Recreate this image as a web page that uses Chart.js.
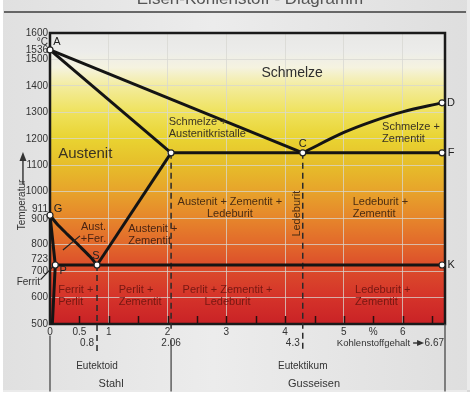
<!DOCTYPE html>
<html>
<head>
<meta charset="utf-8">
<script src="https://cdn.jsdelivr.net/npm/chart.js@4/dist/chart.umd.min.js"></script>
<style>
  html, body { margin: 0; padding: 0; background: #fff; }
  canvas { display: block; }
</style>
</head>
<body>
<canvas id="fe_chart" width="474" height="397"></canvas>
<script>
// key points (carbon %, temperature °C)
const pointA = [0, 1536], pointC = [4.3, 1147], pointD = [6.67, 1336], pointE = [2.06, 1147],
  pointF = [6.67, 1147], pointG = [0, 911], pointS = [0.8, 723], pointP = [0.09, 723], pointK = [6.67, 723];

// phase lines
const liquidusAC = [pointA, pointC];
const liquidusCD = [pointC, [5.0, 1224], [5.5, 1267], [6.0, 1302], pointD];
const solidusAE = [pointA, pointE];
const eutecticEF = [pointE, pointF];
const acmES = [pointE, pointS];
const lineGS = [pointG, [0.12, 878], [0.3, 838], [0.5, 795], [0.68, 755], pointS];
const ferritLine = [pointG, pointP, [0.04, 500]];
const eutectoidPK = [pointP, pointK];

// guide lines (below 500 = under the axis)
const drop08 = [pointS, [0.8, 392]];
const drop206 = [pointE, [2.06, 478]];
const drop43 = [pointC, [4.3, 392]];
const split0 = [[0, 457], [0, 245]];
const split206 = [[2.06, 440], [2.06, 245]];
const split667 = [[6.72, 500], [6.72, 245]];
const arrowTips = [[0.8, 380], [4.3, 380]];

const markerPoints = [pointA, pointC, pointD, pointE, pointF, pointG, pointS, pointP, pointK];
const markerNames = ["A", "C", "D", "", "F", "G", "S", "P", "K"];

// tick labels
const yTicks = [500, 600, 700, 800, 900, 1000, 1100, 1200, 1300, 1400, 1500, 1600];
const yExtraTicks = [1536, 911, 723];
const xTicks = [0, 0.5, 1, 2, 3, 4, 5, 6];

const bgStops = [
  [1600, "#e8e8e6"], [1530, "#ececea"], [1470, "#f5f3e0"], [1400, "#f3ec9e"],
  [1300, "#efe25c"], [1200, "#e9d331"], [1100, "#e6bd2a"], [1000, "#e7a32b"],
  [900, "#e6862b"], [800, "#e2682b"], [723, "#dc4f2b"], [600, "#d5332a"], [500, "#c92226"],
];

// area labels: lines, carbon, temperature, align, size, colour
const areaLabels = [
  [["Schmelze"], 4.12, 1449, "center", 14, "#2e2e2e"],
  [["Schmelze +", "Austenitkristalle"], 2.02, 1265, "left", 11, "#3a3322"],
  [["Austenit"], 0.6, 1145, "center", 15, "#3a3322"],
  [["Schmelze +", "Zementit"], 5.65, 1243, "left", 11, "#3a3322"],
  [["Austenit + Zementit +", "Ledeburit"], 3.06, 963, "center", 11, "#4a2c12"],
  [["Ledeburit +", "Zementit"], 5.15, 963, "left", 11, "#4a2c12"],
  [["Aust.", "+Fer."], 0.74, 867, "center", 11, "#4a2412"],
  [["Austenit +", "Zementit"], 1.33, 859, "left", 11, "#4a2412"],
  [["Ferrit +", "Perlit"], 0.14, 629, "left", 11, "#761812"],
  [["Perlit +", "Zementit"], 1.17, 629, "left", 11, "#761812"],
  [["Perlit + Zementit +", "Ledeburit"], 3.02, 629, "center", 11, "#761812"],
  [["Ledeburit +", "Zementit"], 5.19, 629, "left", 11, "#761812"],
];

const FONT = "'Liberation Sans', Arial, sans-serif";

const line = (data, extra) => ({
  data, showLine: true, borderColor: "#141414", borderWidth: 3, pointRadius: 0,
  fill: false, clip: false, ...extra,
});
const dashed = (data) => line(data, { borderColor: "#2a2a2a", borderWidth: 1.5, borderDash: [6, 4] });
const thin = (data) => line(data, { borderColor: "#4a4a4a", borderWidth: 1.3 });

const diagramPlugin = {
  id: "diagram",
  beforeDraw(chart) {
    const { ctx, chartArea: a, scales: { y } } = chart;
    ctx.save();
    ctx.fillStyle = "#fff";
    ctx.fillRect(0, 0, chart.width, chart.height);
    let pg = ctx.createLinearGradient(0, 0, chart.width, 0);
    pg.addColorStop(0, "#e0e0e0");
    pg.addColorStop(0.45, "#ececec");
    pg.addColorStop(1, "#dedede");
    ctx.fillStyle = pg;
    ctx.fillRect(3, 0, 464, 390);
    ctx.fillStyle = "rgba(0,0,0,0.08)";
    ctx.fillRect(467, 0, 3, 392);
    ctx.fillRect(3, 390, 467, 2);
    ctx.strokeStyle = "#3c3c3c";
    ctx.lineWidth = 1.5;
    ctx.beginPath();
    ctx.moveTo(4, 12);
    ctx.lineTo(466, 12);
    ctx.stroke();
    ctx.fillStyle = "#555";
    ctx.font = `17px ${FONT}`;
    ctx.textAlign = "center";
    ctx.textBaseline = "alphabetic";
    ctx.fillText("Eisen-Kohlenstoff - Diagramm", 250, 4);

    let g = ctx.createLinearGradient(0, a.top, 0, a.bottom);
    bgStops.forEach(([t, c]) => g.addColorStop((y.getPixelForValue(t) - a.top) / (a.bottom - a.top), c));
    ctx.fillStyle = g;
    ctx.fillRect(a.left, a.top, a.right - a.left, a.bottom - a.top);
    ctx.restore();
  },
  beforeDatasetsDraw(chart) {
    const { ctx, chartArea: a, scales: { x } } = chart;
    ctx.save();
    ctx.strokeStyle = "#2a1010";
    ctx.lineWidth = 1.5;
    for (let c = 0.5; c < 6.7; c += 0.5) {
      let px = Math.round(x.getPixelForValue(c)) + 0.5;
      ctx.beginPath();
      ctx.moveTo(px, a.bottom);
      ctx.lineTo(px, a.bottom - 8);
      ctx.stroke();
    }
    ctx.strokeStyle = "#1a1a1a";
    ctx.lineWidth = 2.5;
    ctx.strokeRect(a.left, a.top, a.right - a.left, a.bottom - a.top);
    ctx.restore();
  },
  afterDatasetsDraw(chart) {
    const { ctx, chartArea: a, scales: { x, y } } = chart;
    const at = (c, t) => [x.getPixelForValue(c), y.getPixelForValue(t)];
    ctx.save();
    ctx.textBaseline = "middle";

    // y axis labels
    ctx.fillStyle = "#333";
    ctx.font = `10px ${FONT}`;
    ctx.textAlign = "right";
    yTicks.forEach((t) => {
      let off = t === 900 ? 1 : 0;
      ctx.fillText(String(t), a.left - 2, y.getPixelForValue(t) + off);
    });
    yExtraTicks.forEach((t) => {
      let off = t === 911 ? -6 : t === 723 ? -6 : 0;
      ctx.fillText(String(t), a.left - 2, y.getPixelForValue(t) + off);
    });
    ctx.fillText("°C", a.left - 2, y.getPixelForValue(1600) + 9);

    // x axis labels
    ctx.textAlign = "center";
    xTicks.forEach((c) => ctx.fillText(String(c), x.getPixelForValue(c), a.bottom + 8));
    ctx.fillText("%", x.getPixelForValue(5.5), a.bottom + 8);
    ctx.textAlign = "right";
    ctx.fillText("0.8", x.getPixelForValue(0.8) - 3, a.bottom + 19);
    ctx.fillText("4.3", x.getPixelForValue(4.3) - 3, a.bottom + 19);
    ctx.textAlign = "center";
    ctx.fillText("2.06", x.getPixelForValue(2.06), a.bottom + 19);
    ctx.textAlign = "right";
    ctx.fillText("6.67", a.right - 1, a.bottom + 19);
    ctx.textAlign = "left";
    ctx.font = `9.5px ${FONT}`;
    let kx = x.getPixelForValue(4.88);
    ctx.fillText("Kohlenstoffgehalt", kx, a.bottom + 19);
    let ax0 = kx + ctx.measureText("Kohlenstoffgehalt").width + 3;
    ctx.strokeStyle = "#222";
    ctx.lineWidth = 1.3;
    ctx.beginPath();
    ctx.moveTo(ax0, a.bottom + 19);
    ctx.lineTo(ax0 + 7, a.bottom + 19);
    ctx.stroke();
    ctx.beginPath();
    ctx.moveTo(ax0 + 11, a.bottom + 19);
    ctx.lineTo(ax0 + 4, a.bottom + 16);
    ctx.lineTo(ax0 + 4, a.bottom + 22);
    ctx.fill();

    // bottom captions
    ctx.font = `10px ${FONT}`;
    ctx.textAlign = "center";
    ctx.fillStyle = "#333";
    ctx.fillText("Eutektoid", x.getPixelForValue(0.8), y.getPixelForValue(341));
    ctx.fillText("Eutektikum", x.getPixelForValue(4.3), y.getPixelForValue(341));
    ctx.font = `11px ${FONT}`;
    ctx.fillText("Stahl", x.getPixelForValue(1.04), y.getPixelForValue(273));
    ctx.textAlign = "left";
    ctx.fillText("Gusseisen", x.getPixelForValue(4.05), y.getPixelForValue(273));

    // temperature caption
    ctx.font = `10px ${FONT}`;
    let [tx, ty] = at(-0.48, 950);
    ctx.save();
    ctx.translate(tx, ty);
    ctx.rotate(-Math.PI / 2);
    ctx.textAlign = "center";
    ctx.fillText("Temperatur", 0, 0);
    ctx.restore();
    let [ux, uy0] = at(-0.46, 1029);
    let uy1 = y.getPixelForValue(1150);
    ctx.beginPath();
    ctx.moveTo(ux, uy0);
    ctx.lineTo(ux, uy1 + 6);
    ctx.stroke();
    ctx.beginPath();
    ctx.moveTo(ux, uy1);
    ctx.lineTo(ux - 3.5, uy1 + 9);
    ctx.lineTo(ux + 3.5, uy1 + 9);
    ctx.fill();

    // Ferrit pointer
    ctx.textAlign = "right";
    let [fx, fy] = at(-0.17, 659);
    ctx.fillText("Ferrit", fx, fy);
    ctx.lineWidth = 1.2;
    ctx.beginPath();
    ctx.moveTo(...at(-0.16, 668));
    ctx.lineTo(...at(0.05, 717));
    ctx.stroke();
    // Aust./Fer. pointer
    ctx.beginPath();
    ctx.moveTo(...at(0.22, 780));
    ctx.lineTo(...at(0.51, 833));
    ctx.stroke();

    // area labels
    areaLabels.forEach(([lines, c, t, align, size, color]) => {
      ctx.font = `${size}px ${FONT}`;
      ctx.fillStyle = color;
      ctx.textAlign = align;
      let [lx, ly] = at(c, t);
      lines.forEach((s, i) => ctx.fillText(s, lx, ly + i * (size + 1)));
    });
    // rotated Ledeburit
    ctx.save();
    ctx.font = `11px ${FONT}`;
    ctx.fillStyle = "#4a2c12";
    ctx.translate(...at(4.2, 917));
    ctx.rotate(-Math.PI / 2);
    ctx.textAlign = "center";
    ctx.fillText("Ledeburit", 0, 0);
    ctx.restore();

    // point names
    ctx.font = `11px ${FONT}`;
    ctx.fillStyle = "#222";
    const offsets = { A: [7, -8], C: [0, -9], D: [9, 0], F: [9, 0], K: [9, 0], G: [8, -6], S: [-1, -9], P: [8, 6] };
    markerPoints.forEach((p, i) => {
      let n = markerNames[i];
      if (!n) return;
      let [px, py] = at(p[0], p[1]);
      ctx.textAlign = "center";
      ctx.fillText(n, px + offsets[n][0], py + offsets[n][1]);
    });
    ctx.restore();
  },
};

const gridColor = (lo, hi) => (ctx) =>
  ctx.tick && ctx.tick.value > lo && ctx.tick.value < hi ? "rgba(215,215,210,0.75)" : "transparent";

new Chart(document.querySelector("#fe_chart"), {
  type: "scatter",
  data: {
    datasets: [
      {
        data: markerPoints, pointRadius: 3, pointBackgroundColor: "#fff", pointBorderColor: "#222",
        pointBorderWidth: 1.2, showLine: false, clip: false,
      },
      line(liquidusAC),
      line(liquidusCD, { tension: 0.35 }),
      line(solidusAE),
      line(eutecticEF),
      line(acmES),
      line(lineGS, { tension: 0.3 }),
      line(ferritLine),
      line(eutectoidPK),
      dashed(drop08),
      dashed(drop206),
      dashed(drop43),
      thin(split0),
      thin(split206),
      thin(split667),
      {
        data: arrowTips, pointStyle: "triangle", rotation: 180, pointRadius: 4,
        pointBackgroundColor: "#2a2a2a", pointBorderColor: "#2a2a2a", showLine: false, clip: false,
      },
    ],
  },
  options: {
    responsive: false,
    animation: false,
    devicePixelRatio: 1,
    layout: { padding: { left: 50, top: 33, right: 29, bottom: 73 } },
    plugins: { legend: { display: false }, tooltip: { enabled: false } },
    scales: {
      x: {
        type: "linear", min: 0, max: 6.72,
        ticks: { display: false, stepSize: 1 },
        grid: { drawTicks: false, color: gridColor(0, 6.6), lineWidth: 1 },
        border: { display: false },
      },
      y: {
        min: 500, max: 1600,
        ticks: { display: false, stepSize: 100 },
        grid: { drawTicks: false, color: gridColor(500, 1600), lineWidth: 1 },
        border: { display: false },
      },
    },
  },
  plugins: [diagramPlugin],
});
</script>
</body>
</html>
